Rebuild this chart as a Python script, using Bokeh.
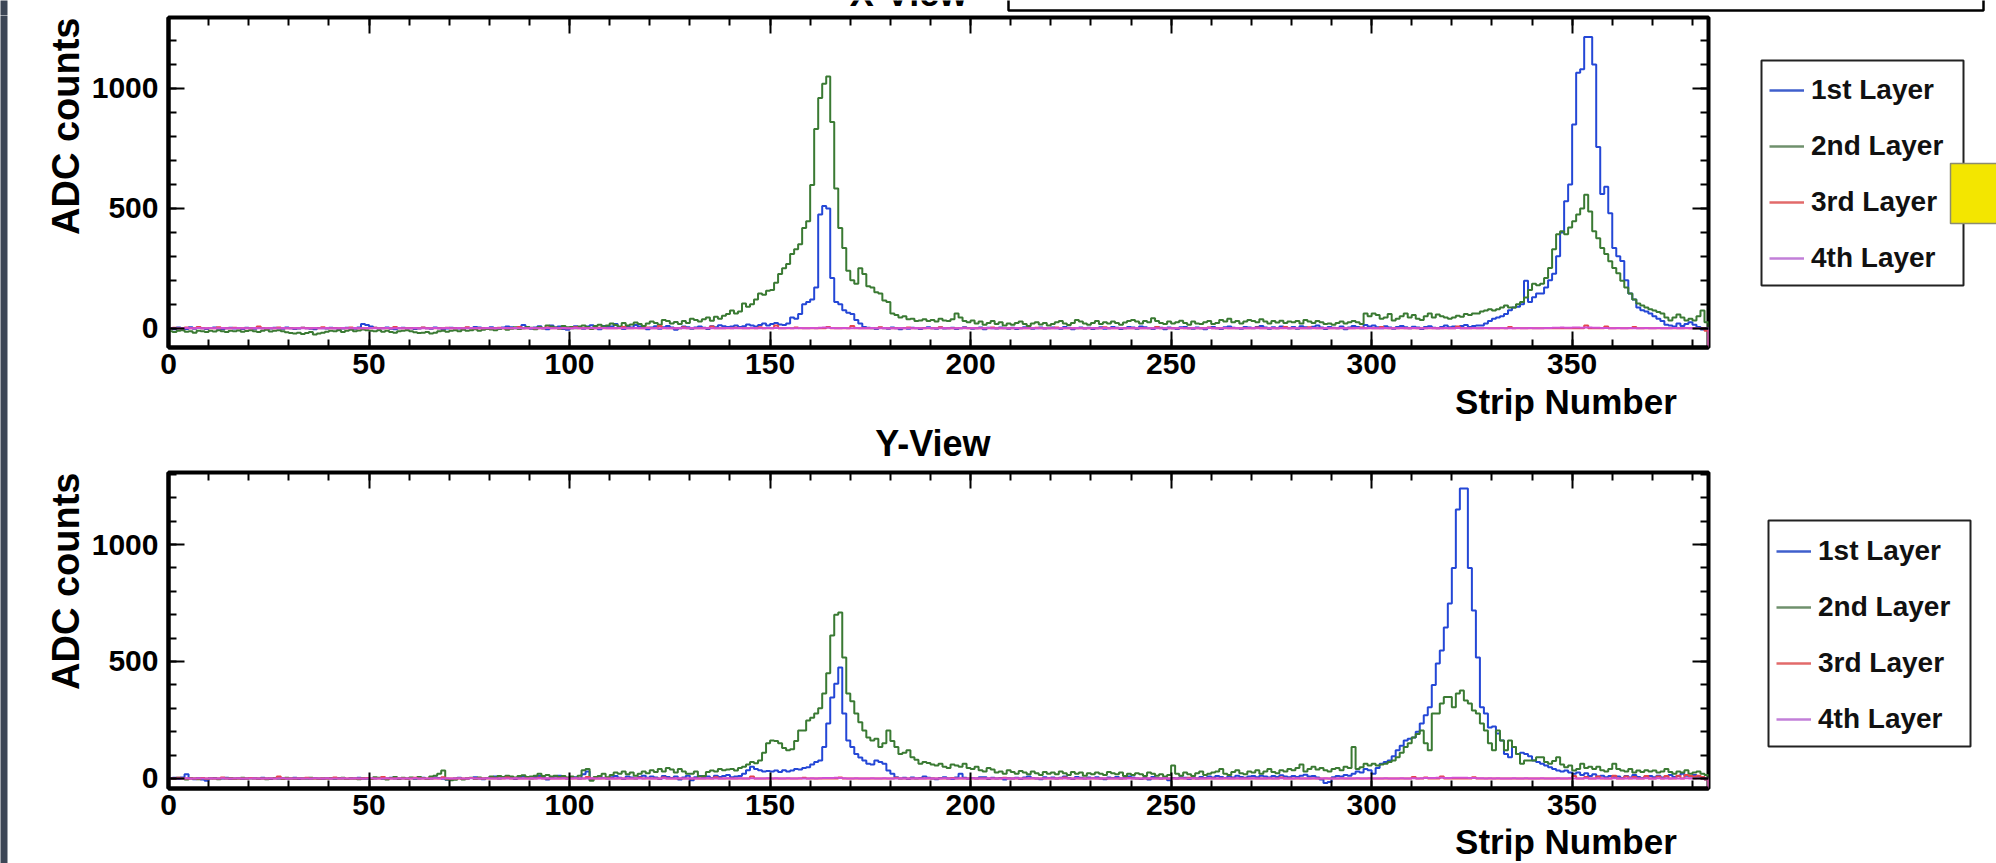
import math
from bokeh.plotting import figure
from bokeh.models import (Range1d, LinearAxis, SingleIntervalTicker, Label, Legend,
                          LegendItem)
from bokeh.layouts import column, row
from bokeh.embed import file_html
from bokeh.resources import INLINE

# ---------------- data (ADC counts per strip, strips 0..383) ----------------
layer_names = ["1st Layer", "2nd Layer", "3rd Layer", "4th Layer"]
view_titles = ["X-View", "Y-View"]
x_axis_title = "Strip Number"
y_axis_title = "ADC counts"

x_layer1 = [
    0, -4, 3, 0, -3, 4, -2, 2, 0, -3,
    1, 3, -2, -4, 0, 2, -1, 0, -3, 2,
    0, -2, 3, 0, -4, -1, 2, 0, -2, 3,
    0, -3, -1, 2, 0, -2, -4, 1, 0, -1,
    2, 0, -3, -1, 2, 0, -2, 3, 18, 14,
    8, 2, -1, 0, 3, -2, -4, 0, 2, -1,
    0, -3, -1, 2, 0, -2, 3, 0, -4, -1,
    2, 0, -1, -3, 2, 0, 6, 3, 0, -2,
    4, 0, -2, 3, 8, 4, 0, 2, 14, 4,
    -2, 3, 9, 0, -4, 12, 3, 8, -3, -6,
    0, 9, 4, -2, 8, 13, 3, -4, 10, 5,
    8, 18, 4, -3, 9, 3, 14, 8, 2, -4,
    3, 9, -2, 4, 10, 3, -6, 0, 8, 4,
    -2, 3, 8, 2, -3, 9, 4, 13, 9, 5,
    8, 12, 5, 9, 16, 12, 8, 14, 20, 12,
    18, 22, 16, 14, 20, 45, 40, 60, 100, 110,
    120, 170, 475, 510, 500, 210, 110, 100, 75, 65,
    60, 35, 20, 6, 2, 0, -3, 2, 0, -2,
    3, 0, -4, 1, -2, 2, 0, -3, 1, 4,
    0, -2, 3, -1, 0, 2, -3, 0, 4, 1,
    -2, 0, 3, -4, 2, 0, -1, 3, 0, -2,
    2, -3, 0, 4, 1, -2, 0, 3, -1, 0,
    3, 0, -2, 6, 2, -4, 0, 3, -1, 2,
    -3, 0, 4, -2, 0, 5, 2, -3, 0, 6,
    3, -2, 8, 4, 0, -3, 5, 2, -4, 3,
    0, -3, 4, 6, 0, -2, 3, 0, -4, 2,
    5, 0, -3, 4, 8, 2, 0, -2, 5, 3,
    0, 6, 10, 3, -2, 4, 0, 8, 3, 0,
    5, -2, 9, 4, 0, 7, 12, 3, -3, 6,
    2, 0, 8, -4, 3, 10, 5, 0, 14, 8,
    12, 4, 0, 9, 3, -2, 6, 10, 4, 0,
    7, 3, -3, 5, 9, 2, 0, 6, 12, 4,
    8, 3, 10, 14, 6, 10, 12, 12, 20, 30,
    40, 45, 50, 60, 75, 87, 90, 100, 198, 110,
    130, 145, 145, 170, 200, 227, 300, 400, 530, 600,
    850, 1066, 1080, 1215, 1215, 1100, 756, 560, 590, 480,
    335, 300, 281, 200, 145, 120, 87, 75, 70, 62,
    50, 40, 30, 15, 12, 8, 20, 10, 18, 25,
    15, 5, -5, 0,
]
x_layer2 = [
    -12, -15, -10, -8, -14, -12, -18, -10, -12, -15,
    -10, -13, -8, -12, -15, -10, -12, -9, -14, -11,
    -8, -12, -15, -10, -6, -13, -10, -8, -12, -16,
    -20, -22, -18, -24, -20, -15, -26, -22, -18, -14,
    -10, -12, -8, -15, -10, -6, -12, -9, -5, -8,
    -10, -12, -8, -14, -10, -15, -18, -12, -10, -8,
    -12, -16, -20, -18, -15, -22, -18, -12, -10, -14,
    -10, -8, -12, -6, -10, -8, -4, -10, -6, -2,
    -5, -8, -3, 0, -6, -2, 4, -3, 0, 5,
    2, -4, 6, 0, 12, 8, 3, -2, 10, 4,
    5, 0, 8, 12, 6, -3, 10, 15, 8, 12,
    20, 14, 8, 22, 12, 16, 24, 18, 10, 20,
    28, 22, 15, 35, 30, 20, 26, 18, 30, 22,
    40, 35, 28, 38, 45, 32, 48, 40, 52, 60,
    74, 62, 70, 103, 90, 100, 120, 145, 140, 157,
    160, 190, 226, 250, 268, 310, 330, 351, 418, 446,
    598, 831, 960, 1020, 1050, 860, 583, 418, 335, 240,
    200, 186, 250, 226, 175, 170, 150, 145, 116, 110,
    62, 55, 45, 50, 38, 40, 30, 33, 38, 30,
    35, 28, 40, 33, 30, 38, 62, 45, 30, 25,
    33, 20, 28, 15, 22, 30, 18, 25, 12, 20,
    15, 22, 28, 18, 10, 20, 25, 16, 22, 12,
    18, 25, 30, 20, 14, 22, 35, 28, 20, 15,
    22, 30, 18, 25, 20, 28, 22, 15, 24, 30,
    35, 28, 20, 30, 25, 42, 30, 22, 18, 28,
    20, 25, 32, 22, 15, 28, 20, 18, 25, 30,
    18, 22, 35, 28, 40, 25, 30, 20, 28, 35,
    30, 25, 38, 28, 20, 30, 24, 32, 22, 28,
    25, 30, 20, 35, 28, 22, 30, 25, 18, 20,
    15, 22, 28, 20, 25, 30, 25, 18, 62, 50,
    62, 55, 40, 45, 60, 33, 40, 50, 62, 45,
    55, 40, 35, 50, 62, 45, 58, 50, 45, 40,
    45, 52, 48, 60, 55, 62, 62, 70, 74, 80,
    74, 80, 87, 95, 87, 87, 100, 110, 128, 160,
    186, 180, 186, 210, 252, 330, 392, 405, 392, 420,
    446, 475, 500, 557, 487, 405, 376, 335, 310, 280,
    252, 230, 198, 170, 145, 120, 103, 95, 87, 80,
    74, 68, 62, 45, 33, 45, 58, 45, 33, 40,
    33, 50, 74, 25,
]
x_layer3 = [
    0, 2, 0, 0, 3, 0, 0, 5, 0, 0,
    0, 0, 4, 0, 0, 0, 2, 0, 0, 0,
    0, 0, 8, 0, 0, 0, 0, 3, 0, 0,
    0, 0, 0, 2, 0, 0, 0, 0, 4, 0,
    0, 0, 0, 0, 0, 3, 0, 0, 0, 0,
    0, 2, 0, 0, 0, 0, 5, 0, 0, 0,
    0, 0, 0, 3, 0, 0, 0, 0, 0, 2,
    0, 0, 0, 0, 4, 0, 0, 0, 0, 0,
    0, 0, 2, 0, 0, 0, 0, 5, 0, 0,
    0, 0, 0, 0, 3, 0, 0, 0, 0, 0,
    0, 4, 0, 0, 0, 0, 0, 2, 0, 0,
    0, 0, 0, 6, 0, 0, 0, 0, 0, 3,
    0, 0, 10, 0, 0, 0, 0, 0, 4, 0,
    0, 0, 0, 0, 0, 8, 0, 0, 0, 0,
    0, 2, 0, 0, 0, 0, 0, 4, 0, 0,
    0, 12, 0, 0, 0, 0, 3, 0, 0, 0,
    0, 0, 0, 0, 6, 0, 0, 0, 0, 0,
    10, 0, 0, 0, 0, 0, 0, 4, 0, 0,
    0, 0, 0, 0, 3, 0, 0, 0, 0, 0,
    0, 0, 4, 0, 0, 0, 0, 0, 2, 0,
    0, 0, 0, 0, 0, 3, 0, 0, 0, 0,
    0, 0, 0, 0, 0, 0, 2, 0, 0, 0,
    0, 3, 0, 0, 0, 0, 0, 0, 0, 0,
    0, 0, 0, 4, 0, 0, 0, 0, 0, 0,
    0, 0, 0, 0, 0, 0, 5, 0, 0, 0,
    0, 0, 0, 0, 0, 0, 0, 0, 0, 3,
    0, 0, 0, 0, 0, 0, 0, 0, 0, 0,
    0, 3, 0, 0, 0, 0, 0, 0, 6, 0,
    0, 0, 0, 0, 4, 0, 0, 0, 0, 0,
    0, 0, 0, 0, 0, 0, 0, 3, 0, 0,
    0, 0, 6, 0, 0, 0, 0, 0, 0, 0,
    0, 0, 0, 0, 0, 0, 0, 0, 0, 0,
    0, 8, 0, 0, 0, 0, 0, 0, 0, 0,
    0, 0, 0, 0, 6, 0, 0, 0, 0, 0,
    0, 0, 0, 0, 0, 0, 0, 0, 0, 0,
    0, 0, 0, 12, 0, 0, 0, 0, 8, 0,
    0, 0, 0, 0, 0, 6, 0, 0, 0, 0,
    0, 0, 0, 0, 0, 0, 0, 0, 0, 0,
    0, 0, 0, -10,
]
x_layer4 = [
    0, 1, 0, 0, 1, 0, 0, 1, 0, 0,
    1, 0, 0, 1, 0, 0, 0, 1, 0, 0,
    0, 1, 0, 0, 0, 1, 0, 0, 1, 0,
    0, 0, 1, 0, 0, 0, 1, 0, 0, 1,
    0, 0, 0, 1, 0, 0, 1, 0, 0, 0,
    1, 0, 0, 0, 1, 0, 0, 1, 0, 0,
    0, 1, 0, 0, 0, 0, 1, 0, 0, 1,
    0, 0, 1, 0, 0, 1, 0, 0, 0, 1,
    0, 0, 0, 1, 0, 0, 1, 0, 0, 0,
    1, 0, 0, 0, 1, 0, 0, 0, 1, 0,
    0, 1, 0, 0, 0, 1, 0, 0, 1, 0,
    0, 0, 1, 0, 0, 0, 1, 0, 0, 1,
    0, 0, 0, 1, 0, 0, 0, 1, 0, 0,
    1, 0, 0, 0, 1, 0, 0, 0, 0, 1,
    0, 0, 1, 0, 0, 1, 0, 0, 0, 1,
    0, 1, 0, 0, 1, 0, 0, 1, 0, 0,
    1, 0, 2, 3, 2, 1, 0, 0, 1, 0,
    0, 1, 0, 0, 0, 1, 0, 0, 1, 0,
    0, 0, 1, 0, 0, 0, 1, 0, 0, 1,
    0, 0, 0, 1, 0, 0, 0, 1, 0, 0,
    1, 0, 0, 0, 1, 0, 0, 0, 1, 0,
    0, 1, 0, 0, 0, 1, 0, 0, 0, 1,
    0, 0, 1, 0, 0, 0, 1, 0, 0, 0,
    1, 0, 0, 1, 0, 0, 0, 1, 0, 0,
    0, 1, 0, 0, 1, 0, 0, 0, 1, 0,
    0, 0, 1, 0, 0, 1, 0, 0, 0, 1,
    0, 0, 0, 1, 0, 0, 1, 0, 0, 0,
    1, 0, 0, 0, 1, 0, 0, 1, 0, 0,
    0, 1, 0, 0, 0, 1, 0, 0, 1, 0,
    0, 0, 1, 0, 0, 0, 1, 0, 0, 1,
    0, 0, 0, 1, 0, 0, 0, 1, 0, 0,
    1, 0, 0, 0, 1, 0, 0, 0, 1, 0,
    0, 1, 0, 0, 0, 1, 0, 0, 1, 0,
    0, 0, 1, 0, 0, 0, 1, 0, 0, 1,
    0, 0, 0, 1, 1, 2, 2, 3, 2, 2,
    3, 3, 2, 3, 3, 2, 2, 1, 1, 0,
    0, 1, 0, 0, 1, 0, 0, 0, 1, 0,
    0, 1, 0, 0, 0, 1, 0, 0, 1, 0,
    0, 1, 0, 0,
]

y_layer1 = [
    0, 3, -2, 4, 18, 0, -3, 2, -4, -10,
    0, 2, -1, 0, 3, -2, 0, 1, -2, 0,
    2, 0, -1, 3, 0, -2, 1, 0, 2, -1,
    0, 3, -2, 0, 1, -1, 2, 0, -2, 1,
    0, -1, 2, 0, -2, 1, 0, 3, -1, 0,
    -2, 0, 2, -1, 0, 3, 0, -2, 1, 0,
    2, -1, 0, 3, -2, 0, 4, 2, -1, -6,
    -4, 0, 3, -2, 0, 2, 5, 0, -3, 2,
    6, 8, 0, 4, 10, 2, -2, 5, 8, 3,
    0, 6, 10, 2, -4, 3, 8, 12, 4, 0,
    2, 5, 0, 18, 30, -6, 4, 8, 2, 0,
    5, 10, 3, -2, 8, 4, 0, 6, 12, 3,
    8, 4, -2, 10, 6, 2, 8, -5, 4, 12,
    -8, 5, 10, 4, 8, 2, 12, 6, 10, 15,
    5, 8, 10, 20, 35, 50, 40, 35, 30, 32,
    30, 34, 28, 35, 30, 34, 40, 38, 45, 48,
    60, 70, 77, 134, 235, 346, 405, 474, 278, 162,
    134, 105, 90, 77, 63, 60, 77, 70, 63, 34,
    20, 5, 0, 3, -2, 4, 0, 2, 8, 3,
    0, -3, 2, 5, 0, -2, 4, 20, 3, -1,
    2, 0, 5, 5, -2, 3, 0, 2, -4, 1,
    0, 3, -2, 4, 8, 2, 0, -3, 5, 2,
    4, 0, 3, 8, 2, -2, 6, 3, 0, 4,
    2, 5, 0, -3, 4, 2, 6, 0, 3, 8,
    4, 0, -2, 3, -5, 6, 2, 0, 4, -8,
    2, 0, 5, 3, -2, 4, 0, 6, 2, 8,
    4, 10, 6, 2, 8, 4, 12, 6, 3, 8,
    10, 5, 12, 8, 4, 10, 6, 14, 8, 5,
    10, 6, 12, 16, 8, 10, 4, -4, -20, -15,
    5, 10, 8, 15, 12, 20, 30, 25, 40, 35,
    20, 45, 63, 70, 77, 95, 120, 140, 162, 170,
    175, 200, 235, 270, 304, 400, 491, 547, 645, 748,
    900, 1150, 1240, 1240, 900, 718, 517, 304, 278, 218,
    222, 192, 162, 105, 91, 134, 105, 110, 105, 95,
    77, 70, 63, 55, 48, 40, 34, 30, 34, 25,
    20, 25, 15, 22, 10, 18, 8, 12, 5, 10,
    5, 8, 2, 10, 4, 15, 6, 2, 8, 10,
    5, 12, 4, 8, 15, 6, 10, 20, 12, 8,
    15, 10, 5, -5,
]
y_layer2 = [
    0, -2, 3, 0, -4, 2, 0, -3, 1, -2,
    2, 0, -3, 1, 0, 2, -2, 0, 3, -1,
    0, 2, -1, 0, -3, 1, 2, 0, -2, 3,
    0, -2, 2, 0, -1, 3, 0, -2, 1, 0,
    2, -1, 0, 3, -2, 0, 1, -3, 2, 0,
    -2, 5, 3, 0, -4, 2, 6, 0, 3, -2,
    4, 0, 6, 2, -2, 8, 12, 20, 34, -5,
    -8, -6, 2, -4, 0, 3, -2, 4, 0, 2,
    8, 4, 10, 6, 12, 8, 4, 10, 14, 6,
    8, 12, 20, 10, 15, 8, 12, 6, 10, 4,
    8, 3, 12, 35, 40, -10, 6, 10, 20, 5,
    15, 25, 20, 30, 18, 25, 12, 20, 30, 22,
    35, 28, 40, 30, 45, 38, 25, 40, 30, 20,
    20, 30, 8, 10, 28, 34, 30, 40, 35, 38,
    40, 34, 45, 50, 60, 70, 65, 77, 110, 150,
    162, 160, 150, 130, 120, 125, 160, 205, 205, 248,
    260, 278, 300, 363, 450, 611, 700, 709, 517, 363,
    330, 278, 240, 205, 175, 162, 170, 134, 150, 205,
    160, 134, 105, 110, 120, 91, 80, 63, 70, 66,
    60, 55, 63, 50, 45, 60, 55, 50, 63, 45,
    40, 50, 35, 30, 45, 38, 25, 30, 20, 35,
    28, 20, 32, 25, 18, 30, 22, 15, 28, 20,
    25, 18, 30, 22, 15, 28, 20, 25, 12, 22,
    18, 25, 20, 15, 28, 22, 18, 25, 10, 20,
    15, 22, 18, 10, 25, 20, 12, 18, 8, 15,
    55, 20, 12, 25, 18, 10, 22, 30, 15, 20,
    25, 30, 40, 20, 15, 28, 35, 22, 18, 30,
    25, 35, 20, 30, 40, 28, 22, 35, 30, 40,
    35, 45, 60, 30, 40, 50, 38, 45, 35, 30,
    40, 45, 35, 50, 45, 134, 40, 48, 63, 55,
    63, 55, 60, 63, 70, 77, 91, 110, 134, 150,
    175, 190, 205, 150, 120, 278, 278, 320, 348, 348,
    304, 363, 376, 333, 320, 290, 278, 235, 205, 150,
    120, 205, 162, 120, 162, 134, 105, 63, 77, 77,
    77, 91, 91, 70, 63, 75, 91, 60, 48, 55,
    34, 40, 63, 45, 50, 40, 50, 35, 30, 40,
    63, 40, 34, 30, 40, 25, 34, 28, 35, 30,
    34, 25, 30, 40, 28, 20, 30, 25, 35, 20,
    25, 30, 20, 15,
]
y_layer3 = [
    0, 0, 3, 0, 0, 0, 0, 0, 2, 0,
    0, 0, 0, 4, 0, 0, 0, 0, 0, 0,
    2, 0, 0, 0, 0, 0, 0, 8, 0, 0,
    0, 0, 0, 0, 3, 0, 0, 0, 0, 0,
    0, 4, 0, 0, 0, 0, 0, 0, 0, 2,
    0, 0, 0, 6, 0, 0, 0, 0, 0, 0,
    0, 3, 0, 0, 0, 0, 0, 0, 5, 0,
    0, 0, 0, 0, 0, 2, 0, 0, 0, 0,
    0, 0, 0, 0, 4, 0, 0, 0, 0, 0,
    0, 0, 3, 0, 0, 0, 0, 0, 0, 0,
    0, 0, 0, 0, 6, 0, 0, 0, 0, 0,
    0, 0, 0, 0, 0, 0, 0, 3, 0, 0,
    0, 0, 0, 4, 0, 0, 0, 0, 0, 0,
    0, 0, 0, 0, 0, 0, 5, 0, 0, 0,
    0, 0, 0, 0, 0, 8, 0, 0, 0, 0,
    0, 0, 0, 0, 0, 0, 0, 0, 3, 0,
    0, 0, 0, 0, 0, 0, 0, 4, 0, 0,
    0, 0, 0, 0, 0, 0, 0, 0, 0, 0,
    0, 3, 0, 0, 0, 0, 0, 0, 0, 0,
    0, 0, 0, 0, 0, 2, 0, 0, 0, 0,
    0, 0, 0, 0, 0, 0, 0, 0, 3, 0,
    0, 0, 0, 0, 0, 0, 0, 0, 0, 0,
    0, 0, 0, 4, 0, 0, 0, 0, 0, 0,
    0, 0, 0, 0, 0, 0, 0, 0, 0, 2,
    0, 0, 0, 0, 0, 0, 0, 0, 0, 0,
    0, 0, 0, 0, 3, 0, 0, 0, 0, 0,
    0, 0, 0, 0, 0, 0, 0, 0, 0, 0,
    0, 0, 0, 0, 0, 0, 0, 4, 0, 0,
    0, 0, 0, 0, 0, 0, 0, 0, 0, 0,
    0, 0, 0, 0, 0, 0, 0, 0, 0, 0,
    0, 0, 0, 0, 0, 0, 0, 0, 0, 0,
    6, 0, 0, 4, 0, 0, 0, 8, 0, 0,
    0, 0, 0, 0, 0, 5, 0, 0, 0, 0,
    0, 0, 0, 0, 0, 0, 0, 0, 0, 0,
    0, 0, 0, 0, 0, 0, 0, 0, 0, 0,
    10, 0, 0, 6, 0, 0, 8, 0, 0, 0,
    12, 0, 0, 8, 0, 6, 0, 0, 10, 0,
    0, 8, 0, 10, 0, 0, 12, 0, 15, 10,
    8, 12, 6, -5,
]
y_layer4 = [
    0, 1, 0, 0, 1, 0, 0, 1, 0, 0,
    1, 0, 0, 1, 0, 0, 0, 1, 0, 0,
    0, 1, 0, 0, 0, 1, 0, 0, 1, 0,
    0, 0, 1, 0, 0, 0, 1, 0, 0, 1,
    0, 0, 0, 1, 0, 0, 1, 0, 0, 0,
    1, 0, 0, 0, 1, 0, 0, 1, 0, 0,
    0, 1, 0, 0, 0, 0, 1, 0, 0, 1,
    0, 0, 1, 0, 0, 1, 0, 0, 0, 1,
    0, 0, 0, 1, 0, 0, 1, 0, 0, 0,
    1, 0, 0, 0, 1, 0, 0, 0, 1, 0,
    0, 1, 0, 0, 0, 1, 0, 0, 1, 0,
    0, 0, 1, 0, 0, 0, 1, 0, 0, 1,
    0, 0, 0, 1, 0, 0, 0, 1, 0, 0,
    1, 0, 0, 0, 1, 0, 0, 0, 0, 1,
    0, 0, 1, 0, 0, 1, 0, 0, 0, 1,
    0, 1, 0, 0, 1, 0, 0, 1, 0, 0,
    1, 0, 1, 2, 2, 2, 3, 2, 1, 0,
    0, 1, 0, 0, 0, 1, 0, 0, 1, 0,
    0, 0, 1, 0, 0, 0, 1, 0, 0, 1,
    0, 0, 0, 1, 0, 0, 0, 1, 0, 0,
    1, 0, 0, 0, 1, 0, 0, 0, 1, 0,
    0, 1, 0, 0, 0, 1, 0, 0, 0, 1,
    0, 0, 1, 0, 0, 0, 1, 0, 0, 0,
    1, 0, 0, 1, 0, 0, 0, 1, 0, 0,
    0, 1, 0, 0, 1, 0, 0, 0, 1, 0,
    0, 0, 1, 0, 0, 1, 0, 0, 0, 1,
    0, 0, 0, 1, 0, 0, 1, 0, 0, 0,
    1, 0, 0, 0, 1, 0, 0, 1, 0, 0,
    0, 1, 0, 0, 0, 1, 0, 0, 1, 0,
    0, 0, 1, 0, 0, 0, 1, 0, 0, 1,
    0, 0, 0, 1, 0, 0, 0, 1, 0, 0,
    1, 0, 1, 2, 2, 2, 3, 3, 2, 2,
    3, 3, 3, 3, 2, 2, 1, 1, 0, 1,
    0, 1, 0, 0, 0, 1, 0, 0, 1, 0,
    0, 0, 1, 0, 0, 0, 1, 0, 0, 1,
    0, 0, 0, 1, 0, 0, 0, 1, 0, 0,
    1, 0, 0, 0, 1, 0, 0, 0, 1, 0,
    0, 1, 0, 0, 0, 1, 0, 0, 1, 0,
    0, 1, 0, 0,
]

# ---------------- styling / page geometry (pixels) ----------------
FONT = "Liberation Sans"
W, H = 1996, 863
TOP_H = 15           # thin strip across the top (title box)
LEFT_W = 88          # left column (y-axis titles)
RIGHT_X = 1740       # start of right column (legends)
FL, FR = 167, 1708   # plot frame left / right
X0, X1 = 0, 384
LINE_COLORS = ["#2447d6", "#3a7a33", "#e5474c", "#d24fd2"]
LEGEND_COLORS = ["#3f5fcc", "#6f906c", "#e26a6a", "#c27fd8"]
EDGE_COLOR = "#3c4656"


def canvas_fig(x0, x1, y0, y1):
    """A plain figure whose frame covers the page region x0..x1, y0..y1 (page pixels)."""
    f = figure(width=x1 - x0, height=y1 - y0, x_range=Range1d(x0, x1),
               y_range=Range1d(y1, y0), output_backend="svg", toolbar_location=None,
               min_border=0, x_axis_location=None, y_axis_location=None)
    f.outline_line_color = None
    for g in f.grid:
        g.visible = False
    f.background_fill_color = "white"
    f.border_fill_color = "white"
    return f


def text(fig, x, y_base, s, size_px, align="left", angle=0.0, y_mid=None):
    # anchor at the vertical middle of the text box; convert from a baseline position
    y = y_mid if y_mid is not None else y_base - 0.3465 * size_px
    fig.add_layout(Label(x=x, y=y, text=s, angle=angle, text_align=align,
                         text_baseline="middle", text_font=FONT, text_font_style="bold",
                         text_font_size=f"{size_px}px", text_color="black"))


def step_xy(vals, ybot):
    xs, ys = [0], [ybot]
    for i, v in enumerate(vals):
        xs += [i, i + 1]
        ys += [v, v]
    xs.append(len(vals))
    ys.append(ybot)
    return xs, ys


def plot_fig(series, y0, y1, py0, py1, frame_top, frame_bot):
    p = figure(width=RIGHT_X - LEFT_W, height=py1 - py0,
               x_range=Range1d(X0, X1), y_range=Range1d(y0, y1),
               output_backend="svg", toolbar_location=None,
               min_border_left=FL - LEFT_W, min_border_right=RIGHT_X - FR,
               min_border_top=frame_top - py0, min_border_bottom=py1 - frame_bot)
    p.background_fill_color = "white"
    p.border_fill_color = "white"
    p.outline_line_color = "black"
    p.outline_line_width = 4
    for g in p.grid:
        g.visible = False

    bottom_ax = p.below[0]
    left_ax = p.left[0]
    bottom_ax.ticker = SingleIntervalTicker(interval=50, num_minor_ticks=5)
    left_ax.ticker = SingleIntervalTicker(interval=500, num_minor_ticks=5)
    top_ax = LinearAxis(ticker=SingleIntervalTicker(interval=50, num_minor_ticks=5),
                        fixed_location=y1)
    right_ax = LinearAxis(ticker=SingleIntervalTicker(interval=500, num_minor_ticks=5),
                          fixed_location=X1)
    p.add_layout(top_ax, "above")
    p.add_layout(right_ax, "right")
    for ax in [bottom_ax, left_ax, top_ax, right_ax]:
        ax.major_tick_in = 16
        ax.major_tick_out = 0
        ax.minor_tick_in = 8
        ax.minor_tick_out = 0
        ax.major_tick_line_width = 2
        ax.minor_tick_line_width = 2
        ax.major_tick_line_color = "black"
        ax.minor_tick_line_color = "black"
        ax.axis_line_width = 4
        ax.axis_line_color = "black"
        ax.major_label_text_font = FONT
        ax.major_label_text_font_style = "bold"
        ax.major_label_text_font_size = "30px"
        ax.major_label_text_color = "black"
    for ax in [top_ax, right_ax]:
        ax.major_label_text_color = None
        ax.axis_line_color = None
    bottom_ax.major_label_standoff = 6
    left_ax.major_label_standoff = 10

    for vals, col in zip(series, LINE_COLORS):
        xs, ys = step_xy(vals, y0)
        p.line(xs, ys, line_color=col, line_width=2)
    return p


def add_legend(fig, left, top, right, bottom):
    # legend frame drawn as a box so that the yellow marker can sit on top of its edge
    fig.quad(left=left, right=right, top=top, bottom=bottom, fill_color="white",
             line_color="#222222", line_width=2)
    # legend-only renderers, placed outside the visible region of this panel
    rs = [fig.line([W + 50, W + 60], [-100, -100], line_color=c, line_width=2.5)
          for c in LEGEND_COLORS]
    leg = Legend(items=[LegendItem(label=n, renderers=[r]) for n, r in zip(layer_names, rs)],
                 location=(left - RIGHT_X, H - bottom), orientation="vertical")
    leg.label_text_font = FONT
    leg.label_text_font_style = "bold"
    leg.label_text_font_size = "28px"
    leg.label_text_color = "#111111"
    leg.glyph_width = 35
    leg.glyph_height = 38
    leg.label_height = 38
    leg.label_width = 140
    leg.label_standoff = 7
    leg.spacing = 18
    leg.padding = 8
    leg.margin = 0
    leg.border_line_color = "#222222"
    leg.border_line_alpha = 0
    leg.background_fill_alpha = 0
    fig.add_layout(leg)


# ---- top strip: title box and the (cut-off) X-View title ----
ft = canvas_fig(0, W, 0, TOP_H)
ft.quad(left=-5, right=7, top=-5, bottom=TOP_H + 5, fill_color=EDGE_COLOR, line_color=None)
ft.quad(left=1008, right=1983, top=-40, bottom=10, fill_color="white",
        line_color="black", line_width=2.5)
text(ft, 908, 5, view_titles[0], 36, align="center")

# ---- left column: screenshot edge + y-axis titles ----
fa = canvas_fig(0, LEFT_W, TOP_H, H)
fa.quad(left=-5, right=7, top=TOP_H - 5, bottom=H + 5, fill_color=EDGE_COLOR, line_color=None)
text(fa, 65, None, y_axis_title, 38, align="right", angle=math.pi / 2, y_mid=17)
text(fa, 65, None, y_axis_title, 38, align="right", angle=math.pi / 2, y_mid=472)

# ---- middle column ----
p1 = plot_fig([x_layer1, x_layer2, x_layer3, x_layer4], -80, 1296, TOP_H, 387, 17, 347)

fb3 = canvas_fig(LEFT_W, RIGHT_X, 387, 470)
text(fb3, 1706, 413, x_axis_title, 35, align="right")
text(fb3, 908, 455, view_titles[1], 36, align="center")

p2 = plot_fig([y_layer1, y_layer2, y_layer3, y_layer4], -43, 1308, 470, 828, 472, 788)

fb5 = canvas_fig(LEFT_W, RIGHT_X, 828, H)
text(fb5, 1706, 853, x_axis_title, 35, align="right")

# ---- right column: legends and the yellow marker ----
fc = canvas_fig(RIGHT_X, W, TOP_H, H)
add_legend(fc, 1761, 60, 1963, 285)
add_legend(fc, 1768, 520, 1970, 746)
fc.quad(left=1950, right=W + 20, top=163, bottom=223, fill_color="#f3e600",
        line_color="#8c8c70", line_width=1.5)

middle = column(p1, fb3, p2, fb5, spacing=0)
layout = column(ft, row(fa, middle, fc, spacing=0), spacing=0)
open("out.html", "w").write(file_html(layout, INLINE))
